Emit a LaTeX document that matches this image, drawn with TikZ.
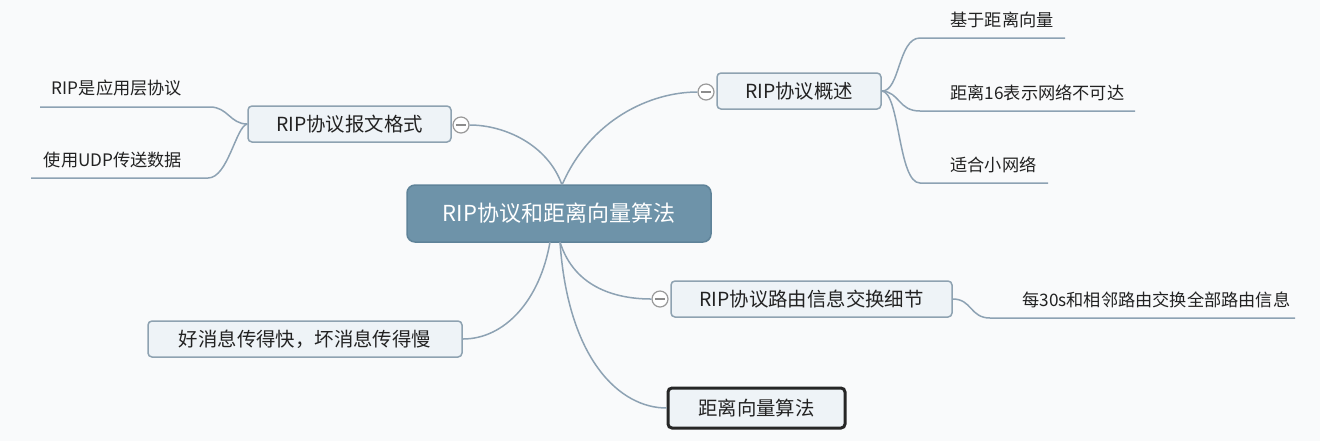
\documentclass[tikz,border=0pt]{standalone}
\usepackage{fontspec}
\setmainfont{Noto Sans CJK SC}
\definecolor{edgec}{HTML}{8DA2B3}
\definecolor{boxfill}{HTML}{EEF3F7}
\definecolor{boxdraw}{HTML}{8EA2B1}
\definecolor{cfill}{HTML}{6E93A9}
\definecolor{cdraw}{HTML}{5F8399}
\definecolor{txt}{HTML}{222222}
\definecolor{bg}{HTML}{F9FAFB}
\tikzset{
  edge/.style={draw=edgec, line width=0.75pt},
  topicbox/.style={draw=boxdraw, fill=boxfill, line width=0.75pt, rounded corners=2pt,
    text=txt, font=\fontsize{9.7}{11}\selectfont, inner sep=0pt, minimum height=18pt},
  central/.style={draw=cdraw, fill=cfill, line width=0.75pt, rounded corners=4pt,
    text=white, font=\fontsize{11}{13}\selectfont, inner sep=0pt,
    minimum width=152pt, minimum height=28.5pt},
  leaf/.style={text=txt, font=\fontsize{8.6}{10}\selectfont, inner sep=0pt},
  coll/.style={circle, draw=gray!80, fill=white, line width=0.6pt, minimum size=8pt, inner sep=0pt,
    path picture={\draw[gray!90, line width=0.6pt] ([xshift=-2.6pt]path picture bounding box.center) -- ([xshift=2.6pt]path picture bounding box.center);}},
}
\begin{document}
\begin{tikzpicture}[x=0.5pt, y=-0.5pt]
\useasboundingbox (0,0) rectangle (1320,441);
\fill[bg] (0,0) rectangle (1320,441);

% central
\node[central] (c) at (559,213.5) {RIP协议和距离向量算法};
\coordinate (ctop) at (562,185);
\coordinate (cbot) at (556,242);

% main topics
\node[topicbox, minimum width=101.5pt] (fmt) at (349.5,124) {RIP协议报文格式};
\node[coll] (fmtc) at (461,125) {};
\node[topicbox, minimum width=82pt] (ov) at (799,91) {RIP协议概述};
\node[coll] (ovc) at (706,92) {};
\node[topicbox, minimum width=140.5pt] (rt) at (811.5,299) {RIP协议路由信息交换细节};
\node[coll] (rtc) at (660,299) {};
\node[topicbox, minimum width=157pt] (good) at (305,339) {好消息传得快，坏消息传得慢};
\node[topicbox, minimum width=88.5pt, minimum height=20pt, draw=black!85, line width=1.5pt] (dv) at (756.5,408) {距离向量算法};

% leaves of fmt
\node[leaf] (t1) at (117,88) {RIP是应用层协议};
\coordinate (l1a) at (40,107); \coordinate (l1b) at (210,107);
\node[leaf] (t2) at (113,160) {使用UDP传送数据};
\coordinate (l2a) at (31,178); \coordinate (l2b) at (208,178);

% leaves of ov
\node[leaf, anchor=west] (t3) at (950,20) {基于距离向量};
\coordinate (r1a) at (920,38); \coordinate (r1b) at (1065,38);
\node[leaf, anchor=west] (t4) at (950,93) {距离16表示网络不可达};
\coordinate (r2a) at (920,111); \coordinate (r2b) at (1135,111);
\node[leaf, anchor=west] (t5) at (950,165) {适合小网络};
\coordinate (r3a) at (920,183); \coordinate (r3b) at (1048,183);

% leaf of rt
\node[leaf, anchor=west] (t6) at (1022,300) {每30s和相邻路由交换全部路由信息};
\coordinate (r4a) at (990,318); \coordinate (r4b) at (1295,318);

% connectors from central
\draw[edge] (ctop) .. controls (548,145) and (505,125) .. (fmtc.east);
\draw[edge] (ctop) .. controls (590,120) and (650,92) .. (ovc.west);
\draw[edge] ([xshift=2pt]cbot) .. controls (575,290) and (620,299) .. (rtc.west);
\draw[edge] ([xshift=-3pt]cbot) .. controls (540,300) and (505,339) .. (good.east);
\draw[edge] ([xshift=2pt]cbot) .. controls (568,360) and (620,408) .. (dv.west);

% fmt leaves
\draw[edge] (fmt.west) .. controls (230,124) and (228,107) .. (l1b) -- (l1a);
\draw[edge] (fmt.west) .. controls (236,126) and (228,178) .. (l2b) -- (l2a);

% ov leaves
\draw[edge] (ov.east) .. controls (900,92) and (898,38) .. (r1a) -- (r1b);
\draw[edge] (ov.east) .. controls (900,92) and (898,111) .. (r2a) -- (r2b);
\draw[edge] (ov.east) .. controls (900,92) and (898,183) .. (r3a) -- (r3b);

% rt leaf
\draw[edge] (rt.east) .. controls (972,299) and (970,318) .. (r4a) -- (r4b);
\end{tikzpicture}
\end{document}
